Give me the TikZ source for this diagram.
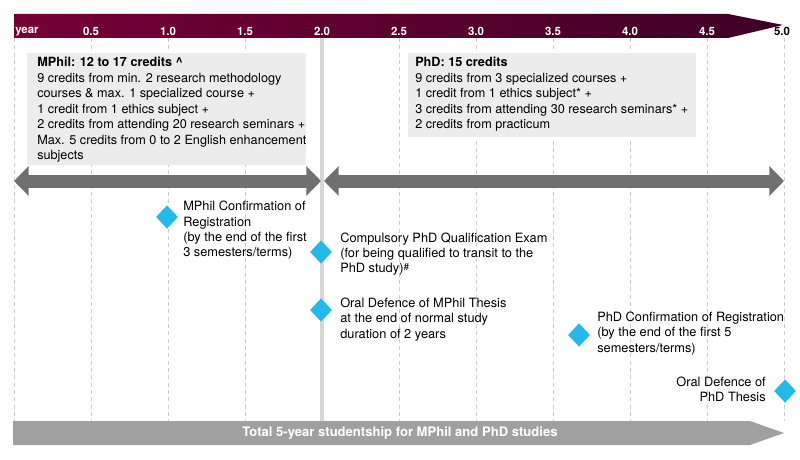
\documentclass[tikz,border=0pt]{standalone}
\usepackage{fontspec}
\setmainfont{TeX Gyre Heros}
\usepackage{tikz}
\usetikzlibrary{arrows.meta,positioning,shapes.geometric}
\definecolor{barpurple}{RGB}{118,0,54}
\definecolor{bardark}{RGB}{62,0,38}
\definecolor{boxgray}{RGB}{236,236,236}
\definecolor{periodgray}{RGB}{112,112,112}
\definecolor{totalgray}{RGB}{160,160,160}
\definecolor{gridgray}{RGB}{205,205,205}
\definecolor{splitgray}{RGB}{215,215,215}
\definecolor{milestoneblue}{RGB}{34,185,235}

\tikzset{
  creditbox/.style={fill=boxgray, anchor=north west, inner sep=0pt},
  credittext/.style={anchor=north west, align=left, inner sep=0pt,
    font=\fontsize{9.5}{11.6}\selectfont},
  milestone/.style={diamond, fill=milestoneblue, minimum width=16.5pt,
    minimum height=17.5pt, inner sep=0pt},
  mstext/.style={align=left, inner sep=0pt, font=\fontsize{9.6}{11.5}\selectfont},
  periodarrow/.style={periodgray, line width=9.75pt,
    {Triangle[length=11pt,width=21.75pt]}-{Triangle[length=11pt,width=21.75pt]}},
  ticklabel/.style={inner sep=0pt, font=\fontsize{8.6}{9}\bfseries\selectfont},
  gridline/.style={gridgray, line width=0.75pt, dash pattern=on 3pt off 2.5pt}
}

\begin{document}
\begin{tikzpicture}[x=0.75pt,y=-0.75pt]
  \useasboundingbox (0,0) rectangle (800,460);
  % year ticks
  \foreach \i in {0,...,10}
    \coordinate (yr\i) at (14+77*\i,38);
  \coordinate (periodrow) at (0,181);

  % grid
  \foreach \i in {0,1,2,3,5,6,7,8,9,10}
    \draw[gridline] (yr\i) -- (yr\i |- 0,421);
  \draw[splitgray, line width=2.5pt] (yr4) -- (yr4 |- 0,421);

  % time bar
  \shade[left color=barpurple, right color=bardark]
    (14,14) -- (728,14) -- (783,25) -- (728,38) -- (14,38) -- cycle;
  \node[ticklabel, white, anchor=west] (yearlbl) at (15,31.5) {year};
  \foreach \v [count=\i] in {0.5,1.0,1.5,2.0,2.5,3.0,3.5,4.0,4.5}
    \node[ticklabel, white] (tick\i) at (14+77*\i,31.5) {\v};
  \node[ticklabel] (tick10) at (782,31.5) {5.0};

  % credit requirements
  \node[creditbox, minimum width=209pt, minimum height=84pt] (mphilbox) at (27,53) {};
  \node[credittext] (mphil) at (37,57) {\textbf{MPhil: 12 to 17 credits \^{}}\\
    9 credits from min. 2 research methodology\\
    courses \& max. 1 specialized course +\\
    1 credit from 1 ethics subject +\\
    2 credits from attending 20 research seminars +\\
    Max. 5 credits from 0 to 2 English enhancement\\
    subjects};
  \node[creditbox, minimum width=216pt, minimum height=63pt] (phdbox) at (408,53) {};
  \node[credittext] (phd) at (415,57) {\textbf{PhD: 15 credits}\\
    9 credits from 3 specialized courses +\\
    1 credit from 1 ethics subject* +\\
    3 credits from attending 30 research seminars* +\\
    2 credits from practicum};

  % study periods
  \draw[periodarrow] (yr0 |- periodrow) -- ([xshift=-0.75pt]yr4 |- periodrow);
  \draw[periodarrow] ([xshift=1.5pt]yr4 |- periodrow) -- (yr10 |- periodrow);

  % milestones
  \node[milestone] (m1) at (167,217) {};
  \node[mstext, anchor=west] (m1txt) at (183,230.5) {MPhil Confirmation of\\
    Registration\\ (by the end of the first\\ 3 semesters/terms)};
  \node[milestone] (m2) at (321,252) {};
  \node[mstext, anchor=west] (m2txt) at (340,254) {Compulsory PhD Qualification Exam\\
    (for being qualified to transit to the\\
    PhD study){\fontsize{7.5}{8}\selectfont\raisebox{1.8pt}{\#}}};
  \node[milestone] (m3) at (321,310) {};
  \node[mstext, anchor=west] (m3txt) at (340,319.5) {Oral Defence of MPhil Thesis\\
    at the end of normal study\\ duration of 2 years};
  \node[milestone] (m4) at (579,335) {};
  \node[mstext, anchor=west] (m4txt) at (597,333.5) {PhD Confirmation of Registration\\
    (by the end of the first 5\\ semesters/terms)};
  \node[milestone] (m5) at (785,391) {};
  \node[mstext, align=right, anchor=east] (m5txt) at (766,389) {Oral Defence of\\ PhD Thesis};

  % total studentship
  \fill[totalgray] (13,421) -- (750,421) -- (784,433) -- (750,445) -- (13,445) -- cycle;
  \node[white, inner sep=0pt, font=\fontsize{9.8}{11}\bfseries\selectfont] (total) at (400,433)
    {Total 5-year studentship for MPhil and PhD studies};
\end{tikzpicture}
\end{document}
